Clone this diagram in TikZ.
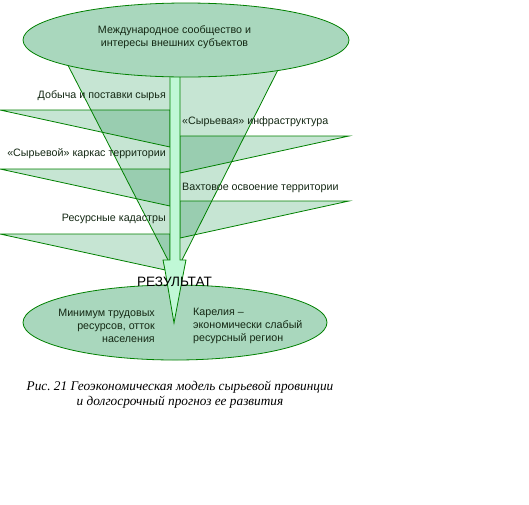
\documentclass[tikz,border=0pt]{standalone}
\usepackage{fontspec}
\setmainfont{Liberation Sans}
\newfontfamily\capfont{Liberation Serif}
\usetikzlibrary{shapes.geometric}
\definecolor{lineg}{RGB}{0,128,0}
\definecolor{lightg}{RGB}{198,229,211}
\definecolor{darkg}{RGB}{153,205,176}
\definecolor{ellg}{RGB}{169,215,189}
\definecolor{mint}{RGB}{192,248,214}
\definecolor{txt}{RGB}{20,40,20}
\begin{document}
\begin{tikzpicture}[x=1pt,y=-1pt,
  edge/.style={draw=lineg, line width=0.8pt},
  lbl/.style={font=\fontsize{10.7}{13}\selectfont, text=txt, inner sep=0pt},
  oval/.style={ellipse, draw=lineg, line width=0.8pt, fill=ellg, inner sep=0pt},
]
\useasboundingbox (0,0) rectangle (529,504);
% funnel and flag coordinates
\coordinate (fA) at (55,40);
\coordinate (fB) at (293,40);
\coordinate (fC) at (181,262);
\coordinate (fD) at (169,262);
\def\funnel{(fA) -- (fB) -- (fC) -- (fD) -- cycle}
\def\flagL#1#2{(0,#1) -- (170,#1) -- (170,#2) -- cycle}
\def\flagR#1#2{(349,#1) -- (180,#1) -- (180,#2) -- cycle}
% light fills
\fill[lightg] \funnel;
\fill[lightg] \flagL{110}{147};
\fill[lightg] \flagL{169}{206};
\fill[lightg] \flagL{234}{271};
\fill[lightg] \flagR{136}{173};
\fill[lightg] \flagR{201}{238};
% overlaps
\begin{scope}
\clip \funnel;
\fill[darkg] \flagL{110}{147};
\fill[darkg] \flagL{169}{206};
\fill[darkg] \flagL{234}{271};
\fill[darkg] \flagR{136}{173};
\fill[darkg] \flagR{201}{238};
\end{scope}
% lines
\draw[edge] (fA) -- (fD);
\draw[edge] (fB) -- (fC);
\draw[edge] \flagL{110}{147};
\draw[edge] \flagL{169}{206};
\draw[edge] \flagL{234}{271};
\draw[edge] \flagR{136}{173};
\draw[edge] \flagR{201}{238};
% bottom ellipse
\node[oval, minimum width=304, minimum height=75] (bottom) at (175,322.5) {};
% arrow
\draw[edge, fill=mint] (170,60) -- (170,260) -- (163,260) -- (165,270) -- (174,323)
  -- (184,270) -- (186,260) -- (180,260) -- (180,60) -- cycle;
% top ellipse
\node[oval, minimum width=326, minimum height=74] (top) at (186,40) {};
% texts
\node[lbl, align=center] (toptext) at (174.5,37) {Международное сообщество и\\интересы внешних субъектов};
\node[lbl, anchor=east] (l1) at (166,96) {Добыча и поставки сырья};
\node[lbl, anchor=east] (l2) at (166,154) {«Сырьевой» каркас территории};
\node[lbl, anchor=east] (l3) at (166,219) {Ресурсные кадастры};
\node[lbl, anchor=west] (r1) at (182,122) {«Сырьевая» инфраструктура};
\node[lbl, anchor=west] (r2) at (182,188) {Вахтовое освоение территории};
\node[font=\fontsize{13.6}{15}\selectfont, inner sep=0pt] (res) at (174.5,282) {РЕЗУЛЬТАТ};
\node[lbl, align=right, anchor=east] (bl) at (155,326) {Минимум трудовых\\ресурсов, отток\\населения};
\node[lbl, align=left, anchor=west] (br) at (193,326) {Карелия –\\экономически слабый\\ресурсный регион};
\node[font=\capfont\itshape\fontsize{13.3}{15}\selectfont, align=center, inner sep=0pt] (cap) at (180,394.5)
  {Рис.\ 21 Геоэкономическая модель сырьевой провинции\\и долгосрочный прогноз ее развития};
\end{tikzpicture}
\end{document}
